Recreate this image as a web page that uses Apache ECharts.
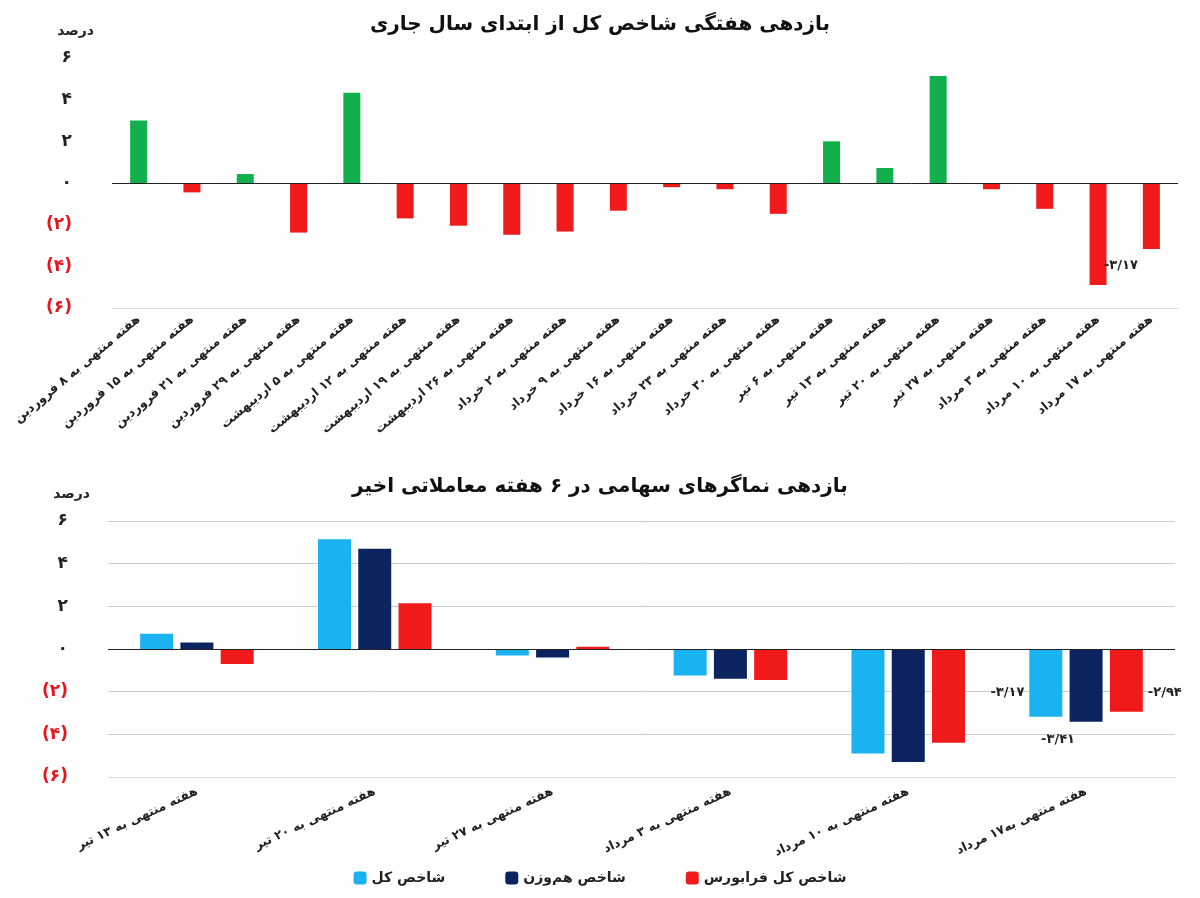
<!DOCTYPE html><html><head><meta charset="utf-8"><script src="https://cdn.jsdelivr.net/npm/echarts@6/dist/echarts.min.js"></script>
<style>body{margin:0;background:#fff}#c{width:1200px;height:898px}</style></head><body><div id="c"></div><script>
const topCats=["هفته منتهی به ۸ فروردین","هفته منتهی به ۱۵ فروردین","هفته منتهی به ۲۱ فروردین","هفته منتهی به ۲۹ فروردین","هفته منتهی به ۵ اردیبهشت","هفته منتهی به ۱۲ اردیبهشت","هفته منتهی به ۱۹ اردیبهشت","هفته منتهی به ۲۶ اردیبهشت","هفته منتهی به ۲ خرداد","هفته منتهی به ۹ خرداد","هفته منتهی به ۱۶ خرداد","هفته منتهی به ۲۳ خرداد","هفته منتهی به ۳۰ خرداد","هفته منتهی به ۶ تیر","هفته منتهی به ۱۳ تیر","هفته منتهی به ۲۰ تیر","هفته منتهی به ۲۷ تیر","هفته منتهی به ۳ مرداد","هفته منتهی به ۱۰ مرداد","هفته منتهی به ۱۷ مرداد"];
const topVals=[3.0,-0.45,0.43,-2.38,4.33,-1.7,-2.05,-2.48,-2.33,-1.33,-0.2,-0.3,-1.48,2.0,0.72,5.14,-0.3,-1.24,-4.9,-3.17];
const botCats=["هفته منتهی به ۱۳ تیر","هفته منتهی به ۲۰ تیر","هفته منتهی به ۲۷ تیر","هفته منتهی به ۳ مرداد","هفته منتهی به ۱۰ مرداد","هفته منتهی به۱۷ مرداد"];
const shakhesKol=[0.72,5.14,-0.3,-1.24,-4.9,-3.17];
const hamvazn=[0.3,4.7,-0.4,-1.4,-5.3,-3.41];
const farabourse=[-0.7,2.15,0.1,-1.45,-4.4,-2.94];
const seriesNames=["شاخص کل","شاخص هم‌وزن","شاخص کل فرابورس"];
const fa=s=>String(s).replace(/[0-9]/g,d=>"۰۱۲۳۴۵۶۷۸۹"[d]).replace('.','/');
const F='"DejaVu Sans"';
const yLab={fontFamily:F,fontWeight:'bold',fontSize:17,margin:40,
  formatter:v=>v<0?'('+fa(-v)+')':fa(v),
  color:v=>Number(v)<0?'#e8141c':'#222'};
function yAx(gi){return{gridIndex:gi,type:'value',min:-6,max:6,interval:2,name:'درصد',nameLocation:'end',nameGap:20,
  nameTextStyle:{fontFamily:F,fontWeight:'bold',fontSize:14,color:'#222',align:'right',padding:[0,18,0,0]},
  axisLabel:yLab,splitLine:{show:false},axisLine:{show:false},axisTick:{show:false}};}
const lbl=(n,pos,off)=>({show:true,position:pos,offset:off,fontFamily:F,fontWeight:'bold',fontSize:13,color:'#222',formatter:p=>p.dataIndex===n?fa(p.value):''});
const ch=echarts.init(document.getElementById('c'));
ch.setOption({animation:false,
title:[{text:'بازدهی هفتگی شاخص کل از ابتدای سال جاری',left:'center',top:10,textStyle:{fontFamily:F,fontWeight:'bold',fontSize:20,color:'#111'}},
{text:'بازدهی نماگرهای سهامی در ۶ هفته معاملاتی اخیر',left:'center',top:472,textStyle:{fontFamily:F,fontWeight:'bold',fontSize:20,color:'#111'}}],
legend:{bottom:8,left:'center',itemWidth:13,itemHeight:13,itemGap:60,textStyle:{fontFamily:F,fontWeight:'bold',fontSize:14,color:'#222'},data:seriesNames},
grid:[{left:112,right:22,top:58,height:250},{left:108,right:25,top:521,height:256}],
xAxis:[{gridIndex:0,type:'category',data:topCats,position:'bottom',axisLine:{onZero:false,lineStyle:{color:'#ddd'}},axisTick:{show:false},
 axisLabel:{rotate:40,interval:0,fontFamily:F,fontWeight:'bold',fontSize:12.5,color:'#222',margin:10}},
{gridIndex:1,type:'category',data:botCats,axisLine:{onZero:false,lineStyle:{color:'#ddd'}},axisTick:{show:false},
 axisLabel:{rotate:25,interval:0,fontFamily:F,fontWeight:'bold',fontSize:12.5,color:'#222',margin:14}}],
yAxis:[yAx(0),Object.assign(yAx(1),{splitLine:{show:true,lineStyle:{color:'#ccc'}}})],
series:[
{type:'bar',xAxisIndex:0,yAxisIndex:0,data:topVals.map(v=>({value:v,itemStyle:{color:v>=0?'#12b04c':'#f01a1a'}})),barWidth:17,
 label:lbl(19,'left',[0,50]),
 markLine:{silent:true,symbol:'none',label:{show:false},lineStyle:{color:'#222',type:'solid',width:1},data:[{yAxis:0}]}},
{name:seriesNames[0],type:'bar',xAxisIndex:1,yAxisIndex:1,data:shakhesKol,itemStyle:{color:'#1ab2f0'},barWidth:33,barGap:'22%',label:lbl(5,'left',[0,10]),
 markLine:{silent:true,symbol:'none',label:{show:false},lineStyle:{color:'#222',type:'solid',width:1},data:[{yAxis:0}]}},
{name:seriesNames[1],type:'bar',xAxisIndex:1,yAxisIndex:1,data:hamvazn,itemStyle:{color:'#0b2460'},barWidth:33,label:lbl(5,'bottom',[-28,6])},
{name:seriesNames[2],type:'bar',xAxisIndex:1,yAxisIndex:1,data:farabourse,itemStyle:{color:'#f01a1a'},barWidth:33,label:lbl(5,'right',[0,12])}
]});
</script></body></html>
